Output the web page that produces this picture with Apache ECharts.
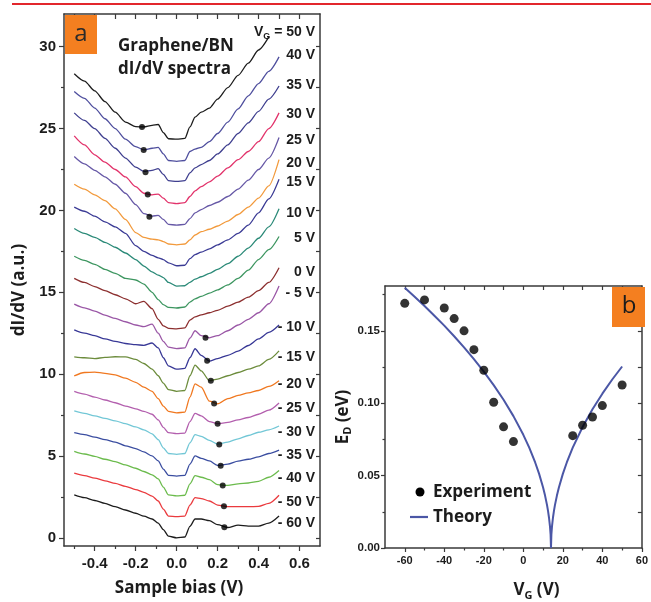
<!DOCTYPE html>
<html>
<head>
<meta charset="utf-8">
<script src="https://cdn.jsdelivr.net/npm/echarts@6/dist/echarts.min.js"></script>
<style>
html,body{margin:0;padding:0;background:#fff;}
#chart{width:651px;height:602px;}
</style>
</head>
<body>
<div id="chart"></div>
<script>
// ---------- Panel a: dI/dV spectra (offset curves) ----------
const bias = [-0.5,-0.45,-0.4,-0.35,-0.3,-0.25,-0.2,-0.16,-0.12,-0.09,-0.065,-0.04,0,0.04,0.065,0.09,0.12,0.16,0.2,0.25,0.3,0.35,0.4,0.45,0.5];

const s50  = [28.35,27.9,27.3,26.65,26.0,25.4,25.12,25.1,25.2,25.25,24.75,24.38,24.35,24.4,25.1,25.7,26.0,26.25,26.8,27.5,28.25,29.0,29.8,30.6,null];
const s40  = [27.27,26.85,26.25,25.6,25.0,24.35,23.9,23.7,23.8,23.85,23.45,23.05,23.0,23.05,23.6,23.75,23.85,24.2,24.7,25.4,26.2,27.0,27.75,28.5,29.38];
const s35  = [25.96,25.5,25.0,24.4,23.8,23.2,22.65,22.38,22.45,22.55,22.2,21.82,21.77,21.82,22.3,22.6,22.8,23.05,23.45,24.0,24.7,25.35,26.05,26.8,27.6];
const s30  = [24.55,24.0,23.4,22.95,22.5,22.05,21.45,21.05,20.95,21.0,20.75,20.48,20.42,20.48,20.85,21.2,21.45,21.75,22.1,22.6,23.1,23.6,24.2,25.0,25.96];
const s25  = [23.3,22.85,22.45,22.05,21.6,21.05,20.35,19.8,19.65,19.7,19.45,19.15,19.1,19.15,19.5,19.85,20.05,20.3,20.5,20.85,21.3,21.85,22.5,23.2,24.45];
const s20  = [21.6,21.3,20.95,20.6,20.1,19.45,18.65,18.35,18.25,18.2,18.1,17.95,17.9,17.95,18.2,18.5,18.7,18.85,19.05,19.35,19.75,20.2,20.75,21.5,23.1];
const s15  = [20.2,19.95,19.65,19.3,19.0,18.6,17.85,17.5,17.25,17.1,17.0,16.8,16.62,16.65,17.05,17.3,17.45,17.65,17.9,18.2,18.6,19.1,19.85,20.7,21.9];
const s10  = [18.9,18.6,18.35,18.05,17.75,17.4,17.0,16.6,16.25,16.05,15.9,15.6,15.38,15.4,15.6,15.8,15.95,16.15,16.4,16.75,17.2,17.7,18.3,19.0,20.1];
const s5   = [17.2,16.95,16.7,16.4,16.15,15.85,15.75,15.5,15.0,14.55,14.25,14.08,14.04,14.1,14.4,14.6,14.75,14.95,15.15,15.45,15.85,16.35,17.0,17.6,18.41];
const s0   = [15.85,15.6,15.35,15.1,14.85,14.6,14.3,14.45,14.0,13.35,12.95,12.8,12.77,12.82,13.3,13.5,13.62,13.75,13.9,14.15,14.4,14.7,15.1,15.6,16.5];
const sm5  = [14.28,14.05,13.85,13.6,13.4,13.2,13.0,12.9,13.05,12.5,12.0,11.65,11.56,11.6,12.2,12.65,12.35,12.22,12.35,12.65,13.0,13.35,13.75,14.3,15.39];
const sm10 = [12.7,12.5,12.35,12.15,12.0,11.87,11.8,11.76,11.9,11.6,11.0,10.5,10.3,10.35,11.0,11.55,11.15,10.8,10.95,11.15,11.4,11.75,12.15,12.55,13.0];
const sm15 = [11.06,11.0,10.95,11.02,11.06,11.05,10.9,10.65,10.3,9.9,9.45,9.05,8.95,9.0,9.9,10.55,10.2,9.6,9.7,9.9,10.1,10.3,10.5,10.9,11.42];
const sm20 = [9.89,10.1,10.12,10.05,9.95,9.75,9.5,9.2,8.95,8.5,8.05,7.72,7.63,7.68,8.6,9.4,9.2,8.35,8.18,8.5,8.7,8.85,9.0,9.25,9.6];
const sm25 = [8.94,8.78,8.6,8.42,8.25,8.05,7.88,7.73,7.55,7.2,6.75,6.42,6.36,6.4,7.1,7.6,7.45,7.1,6.97,7.05,7.2,7.35,7.55,7.8,8.24];
const sm30 = [7.75,7.6,7.45,7.3,7.15,6.97,6.78,6.6,6.35,6.0,5.5,5.15,5.1,5.15,5.8,6.3,6.2,5.95,5.73,5.85,6.05,6.25,6.45,6.6,6.83];
const sm35 = [6.42,6.3,6.15,6.0,5.85,5.62,5.45,5.25,5.0,4.7,4.2,3.82,3.77,3.82,4.5,5.0,4.85,4.7,4.42,4.5,4.68,4.8,4.95,5.15,5.36];
const sm40 = [5.28,5.12,4.98,4.8,4.65,4.45,4.25,4.05,3.85,3.6,3.1,2.62,2.56,2.6,3.3,3.8,3.7,3.55,3.25,3.2,3.3,3.35,3.45,3.7,4.11];
const sm50 = [3.95,3.8,3.65,3.48,3.32,3.14,2.95,2.78,2.55,2.25,1.75,1.33,1.29,1.33,2.0,2.45,2.4,2.25,2.0,1.9,1.9,1.9,1.92,2.1,2.6];
const sm60 = [2.62,2.45,2.28,2.1,1.9,1.7,1.5,1.32,1.15,0.9,0.5,0.1,0.0,0.05,0.7,1.15,1.15,1.05,0.8,0.63,0.78,0.72,0.72,0.9,1.33];

const gateNames = ['50 V','40 V','35 V','30 V','25 V','20 V','15 V','10 V','5 V','0 V','- 5 V','- 10 V','- 15 V','- 20 V','- 25 V','- 30 V','- 35 V','- 40 V','- 50 V','- 60 V'];
const spectra = [s50,s40,s35,s30,s25,s20,s15,s10,s5,s0,sm5,sm10,sm15,sm20,sm25,sm30,sm35,sm40,sm50,sm60];
const curveColors = ['#1c1c1c','#4f4f9e','#3f3f8f','#e2336b','#6658a6','#f29a3c','#3b3b95','#2b8a78','#3d9660','#8c2f2f',
                     '#9a57a6','#383896','#6c8c3c','#f07820','#b35fae','#72c7d6','#3a4da0','#6bbb4c','#ea3a3e','#1c1c1c'];
// Dirac-point markers on the spectra
const markBias = [-0.169,-0.161,-0.152,-0.141,-0.133,0.141,0.149,0.167,0.183,0.2,0.208,0.215,0.225,0.231,0.233];
const markVal  = [25.1,23.69,22.34,20.97,19.62,12.22,10.82,9.59,8.2,6.97,5.7,4.41,3.2,1.93,0.65];

// ---------- Panel b: E_D vs V_G ----------
const expVg = [-60,-50,-40,-35,-30,-25,-20,-15,-10,-5,25,30,35,40,50];
const expEd = [0.169,0.1714,0.1658,0.1585,0.150,0.137,0.1228,0.1007,0.0837,0.0735,0.0776,0.0848,0.0905,0.0984,0.1126];
const thVg = [-60,-55,-50,-45,-40,-35,-30,-25,-20,-15,-10,-5,0,3,6,8,10,11,12,12.5,13,13.5,13.8,14,14.2,14.5,15,15.5,16,17,18,20,22,25,30,35,40,45,50];
const thEd = [0.1798,0.1736,0.1672,0.1605,0.1536,0.1463,0.1386,0.1305,0.1219,0.1125,0.1024,0.0911,0.0782,0.0693,0.0591,0.0512,0.0418,0.0362,0.0296,0.0256,0.0209,0.0148,0.0093,0,0.0093,0.0148,0.0209,0.0256,0.0296,0.0362,0.0418,0.0512,0.0591,0.0693,0.0836,0.0958,0.1066,0.1164,0.1254];

// tick values
const aXMajor = [-0.4,-0.2,0,0.2,0.4,0.6];
const aXMinor = [-0.5,-0.3,-0.1,0.1,0.3,0.5];
const aXTop   = [-0.5,-0.4,-0.3,-0.2,-0.1,0,0.1,0.2,0.3,0.4,0.5,0.6];
const aYMajor = [0,5,10,15,20,25,30];
const aYMinor = [2.5,7.5,12.5,17.5,22.5,27.5];
const aYRight = [0,2.5,5,7.5,10,12.5,15,17.5,20,22.5,25,27.5,30];
const bXMajor = [-60,-40,-20,0,20,40,60];
const bXMinor = [-50,-30,-10,10,30,50];
const bXTop   = [-60,-50,-40,-30,-20,-10,0,10,20,30,40,50];
const bYMajor = [0,0.05,0.10,0.15];
const bYMinor = [0.025,0.075,0.125,0.175];
const bYRight = [0.025,0.05,0.075,0.10,0.125,0.15,0.175];

// label y-centres (px) for the gate-voltage annotations
const labelY = [32,55,85,114,140,163,182,213,238,272,293,327,357,384,408,432,455,478,502,523];

const INK = '#1c1c1c';
const FRAME = '#3a3a3a';
const THEORY = '#4b57a6';
const tickFont = {fontFamily:'Liberation Sans', fontWeight:'bold', color:INK};
const titleFont = {fontFamily:'Open Sans', fontWeight:'bold', color:INK};

function tickAxis(o){
  return Object.assign({
    type:'value', splitLine:{show:false},
    axisLine:{show:false, onZero:false},
    axisTick:{show:false}, axisLabel:{show:false}
  }, o);
}

const chart = echarts.init(document.getElementById('chart'), null, {renderer:'canvas'});

const xAxes = [
  // panel a
  tickAxis({gridIndex:0, min:-0.55, max:0.7, position:'bottom',
    axisLine:{show:true, onZero:false, lineStyle:{color:FRAME, width:1.5}},
    axisTick:{show:true, customValues:aXMajor, length:5, lineStyle:{color:FRAME, width:1.2}},
    axisLabel:Object.assign({show:true, customValues:aXMajor, formatter:v=>v.toFixed(1), fontSize:15, margin:10}, tickFont),
    name:'Sample bias (V)', nameLocation:'middle', nameGap:34,
    nameTextStyle:Object.assign({fontSize:17, padding:[0,26,0,0]}, titleFont)}),
  tickAxis({gridIndex:0, min:-0.55, max:0.7, position:'bottom',
    axisTick:{show:true, customValues:aXMinor, length:3, lineStyle:{color:FRAME, width:1.2}}}),
  tickAxis({gridIndex:0, min:-0.55, max:0.7, position:'top',
    axisLine:{show:true, onZero:false, lineStyle:{color:FRAME, width:1.5}},
    axisTick:{show:true, inside:true, customValues:aXTop, length:5, lineStyle:{color:FRAME, width:1.2}}}),
  // panel b
  tickAxis({gridIndex:1, min:-70, max:60, position:'bottom',
    axisLine:{show:true, onZero:false, lineStyle:{color:FRAME, width:1.5}},
    axisTick:{show:true, customValues:bXMajor, length:4, lineStyle:{color:FRAME, width:1.2}},
    axisLabel:Object.assign({show:true, customValues:bXMajor, formatter:v=>String(v), fontSize:11, margin:7}, tickFont),
    name:'{n|V}{s|G}{n| (V)}', nameLocation:'middle', nameGap:31,
    nameTextStyle:{padding:[0,0,0,46], rich:{
      n:Object.assign({fontSize:17, lineHeight:22}, titleFont),
      s:Object.assign({fontSize:11, lineHeight:11, verticalAlign:'bottom'}, titleFont)}}}),
  tickAxis({gridIndex:1, min:-70, max:60, position:'bottom',
    axisTick:{show:true, customValues:bXMinor, length:2.5, lineStyle:{color:FRAME, width:1.2}}}),
  tickAxis({gridIndex:1, min:-70, max:60, position:'top',
    axisLine:{show:true, onZero:false, lineStyle:{color:FRAME, width:1.5}},
    axisTick:{show:true, inside:true, customValues:bXTop, length:4, lineStyle:{color:FRAME, width:1.2}}})
];

const yAxes = [
  // panel a
  tickAxis({gridIndex:0, min:-0.5, max:32, position:'left',
    axisLine:{show:true, onZero:false, lineStyle:{color:FRAME, width:1.5}},
    axisTick:{show:true, customValues:aYMajor, length:5, lineStyle:{color:FRAME, width:1.2}},
    axisLabel:Object.assign({show:true, customValues:aYMajor, fontSize:15, margin:8}, tickFont),
    name:'dI/dV (a.u.)', nameLocation:'middle', nameGap:36, nameRotate:90,
    nameTextStyle:Object.assign({fontSize:17, padding:[0,20,0,0]}, titleFont)}),
  tickAxis({gridIndex:0, min:-0.5, max:32, position:'left',
    axisTick:{show:true, customValues:aYMinor, length:3, lineStyle:{color:FRAME, width:1.2}}}),
  tickAxis({gridIndex:0, min:-0.5, max:32, position:'right',
    axisLine:{show:true, onZero:false, lineStyle:{color:FRAME, width:1.5}},
    axisTick:{show:true, inside:true, customValues:aYRight, length:4, lineStyle:{color:FRAME, width:1.2}}}),
  // panel b
  tickAxis({gridIndex:1, min:0, max:0.181, position:'left',
    axisLine:{show:true, onZero:false, lineStyle:{color:FRAME, width:1.5}},
    axisTick:{show:true, customValues:bYMajor, length:4, lineStyle:{color:FRAME, width:1.2}},
    axisLabel:Object.assign({show:true, customValues:bYMajor, formatter:v=>v.toFixed(2), fontSize:11.5, margin:5}, tickFont),
    name:'{n|E}{s|D}{n| (eV)}', nameLocation:'middle', nameGap:30, nameRotate:90,
    nameTextStyle:{rich:{
      n:Object.assign({fontSize:17, lineHeight:22}, titleFont),
      s:Object.assign({fontSize:11, lineHeight:11, verticalAlign:'bottom'}, titleFont)}}}),
  tickAxis({gridIndex:1, min:0, max:0.181, position:'left',
    axisTick:{show:true, customValues:bYMinor, length:2.5, lineStyle:{color:FRAME, width:1.2}}}),
  tickAxis({gridIndex:1, min:0, max:0.181, position:'right',
    axisLine:{show:true, onZero:false, lineStyle:{color:FRAME, width:1.5}},
    axisTick:{show:true, inside:true, customValues:bYRight, length:4, lineStyle:{color:FRAME, width:1.2}}})
];

const series = [];
spectra.forEach((arr, i) => {
  const data = [];
  bias.forEach((b, j) => { if (arr[j] !== null) data.push([b, arr[j]]); });
  series.push({
    name: 'VG ' + gateNames[i], type:'line', xAxisIndex:0, yAxisIndex:0,
    data, symbol:'none', smooth:0.25, smoothMonotone:'x',
    lineStyle:{color:curveColors[i], width:1.3}, itemStyle:{color:curveColors[i]},
    silent:true, z:2
  });
});
series.push({
  name:'Dirac points', type:'scatter', xAxisIndex:0, yAxisIndex:0,
  data: markBias.map((b,i)=>[b, markVal[i]]),
  symbol:'circle', symbolSize:6, itemStyle:{color:'#000'}, z:5
});
series.push({
  name:'Theory', type:'line', xAxisIndex:3, yAxisIndex:3,
  data: thVg.map((v,i)=>[v, thEd[i]]),
  symbol:'none', lineStyle:{color:THEORY, width:2}, itemStyle:{color:THEORY}, z:3
});
series.push({
  name:'Experiment', type:'scatter', xAxisIndex:3, yAxisIndex:3,
  data: expVg.map((v,i)=>[v, expEd[i]]),
  symbol:'circle', symbolSize:9, itemStyle:{color:'#000'}, z:4
});

const graphics = [
  {type:'line', shape:{x1:12, y1:4, x2:651, y2:4}, style:{stroke:'#e2262c', lineWidth:2.2}, z:10},
  {type:'rect', shape:{x:65, y:15, width:32, height:39}, style:{fill:'#f47f20'}, z:10},
  {type:'text', x:81, y:34, z:11, style:{text:'a', fill:'#2a2a2a', font:'24px "Open Sans"', align:'center', verticalAlign:'middle', textAlign:'center', textVerticalAlign:'middle'}},
  {type:'rect', shape:{x:612, y:287, width:33, height:40}, style:{fill:'#f47f20'}, z:10},
  {type:'text', x:629, y:306, z:11, style:{text:'b', fill:'#1c1c1c', font:'24px "Open Sans"', align:'center', verticalAlign:'middle', textAlign:'center', textVerticalAlign:'middle'}},
  {type:'text', x:118, y:35, z:11, style:{text:'Graphene/BN\ndI/dV spectra', fill:INK, font:'bold 17px "Open Sans"', lineHeight:23, align:'left', verticalAlign:'top', textAlign:'left', textVerticalAlign:'top'}},
  // legend of panel b
  {type:'circle', shape:{cx:420, cy:492, r:4.5}, style:{fill:'#000'}, z:11},
  {type:'text', x:433, y:492, z:11, style:{text:'Experiment', fill:INK, font:'bold 17px "Open Sans"', align:'left', verticalAlign:'middle', textAlign:'left', textVerticalAlign:'middle'}},
  {type:'line', shape:{x1:410, y1:517, x2:428, y2:517}, style:{stroke:THEORY, lineWidth:2.2}, z:11},
  {type:'text', x:433, y:517, z:11, style:{text:'Theory', fill:INK, font:'bold 17px "Open Sans"', align:'left', verticalAlign:'middle', textAlign:'left', textVerticalAlign:'middle'}}
];
gateNames.forEach((g, i) => {
  const txt = i === 0 ? '{n|V}{s|G}{n| = ' + g + '}' : '{n|' + g + '}';
  graphics.push({type:'text', x:315, y:labelY[i], z:11,
    style:{text:txt, align:'right', verticalAlign:'middle', textAlign:'right', textVerticalAlign:'middle',
      rich:{
        n:{fontFamily:'Liberation Sans', fontWeight:'bold', fontSize:14, lineHeight:18, fill:INK, color:INK},
        s:{fontFamily:'Liberation Sans', fontWeight:'bold', fontSize:9, lineHeight:9, verticalAlign:'bottom', fill:INK, color:INK}
      }}});
});

chart.setOption({
  animation:false,
  backgroundColor:'#ffffff',
  grid:[
    {left:64, top:14, width:256, height:538},
    {left:385, top:286, width:261, height:266.7}
  ],
  xAxis:xAxes,
  yAxis:yAxes,
  series,
  graphic:graphics
});
</script>
</body>
</html>
